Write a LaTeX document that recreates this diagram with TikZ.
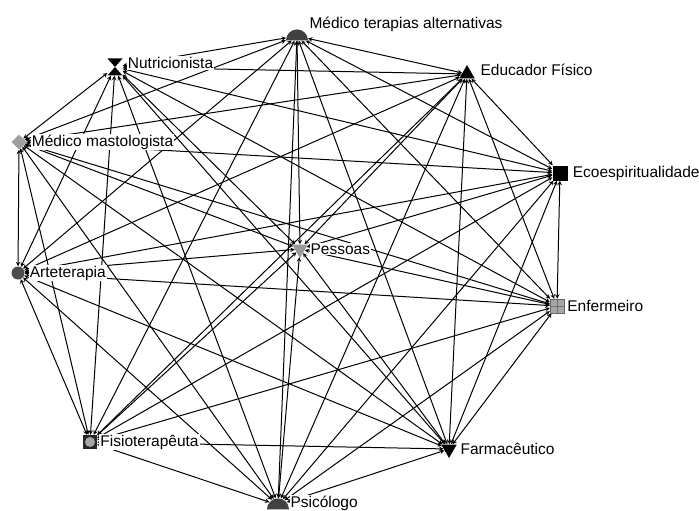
\documentclass[tikz,border=0pt]{standalone}
\usepackage{fontspec}
\setmainfont{Liberation Sans}
\usetikzlibrary{arrows,shapes.geometric,backgrounds}

\begin{document}
\begin{tikzpicture}[x=1pt,y=-1pt,
		actor/.style={inner sep=0pt, minimum size=15pt},
		lbl/.style={fill=white, inner sep=1pt, font=\fontsize{15.5}{18}\selectfont},
		tie/.style={<->, >=stealth, line width=1pt}]
	\useasboundingbox (0,0) rectangle (699,511);
	% actors of the network
	\node[actor, semicircle, minimum width=22pt, minimum height=0pt, fill=black!75,
		label={[lbl, name=mta-l, label distance=1pt, yshift=12pt]right:Médico terapias alternativas}] (mta) at (297,36) {};
	\node[actor, rectangle, minimum width=15pt, minimum height=17pt,
		path picture={\fill[black] (path picture bounding box.north west) -- (path picture bounding box.north east) -- (path picture bounding box.south west) -- (path picture bounding box.south east) -- cycle;},
		label={[lbl, name=nut-l, label distance=4pt, yshift=4pt]right:Nutricionista}] (nut) at (115,67) {};
	\node[actor, regular polygon, regular polygon sides=3, minimum size=18pt, fill=black,
		label={[lbl, name=edu-l, label distance=7pt, yshift=4pt]right:Educador Físico}] (edu) at (467,74) {};
	\node[actor, diamond, minimum size=15pt, fill=gray!75,
		label={[lbl, name=mas-l, label distance=4pt]right:Médico mastologista}] (mas) at (19,142) {};
	\node[actor, rectangle, fill=black,
		label={[lbl, name=eco-l, label distance=4pt]right:Ecoespiritualidade}] (eco) at (560,173) {};
	\node[actor, regular polygon, regular polygon sides=3, shape border rotate=180, minimum size=18pt, fill=gray!80,
		label={[lbl, name=pes-l, label distance=4pt]right:Pessoas}] (pes) at (300,249) {};
	\node[actor, circle, minimum size=13pt, fill=black!70,
		label={[lbl, name=art-l, label distance=4pt]right:Arteterapia}] (art) at (18,273) {};
	\node[actor, rectangle, minimum size=14pt, fill=gray!70, draw=black!60,
		path picture={\draw[black!55] (path picture bounding box.north) -- (path picture bounding box.south) (path picture bounding box.west) -- (path picture bounding box.east);},
		label={[lbl, name=enf-l, label distance=2pt]right:Enfermeiro}] (enf) at (557,306) {};
	\node[actor, rectangle, minimum size=14pt, fill=black!85,
		path picture={\fill[gray!70] (path picture bounding box.center) circle (5pt);},
		label={[lbl, name=fis-l, label distance=2pt]right:Fisioterapêuta}] (fis) at (90,442) {};
	\node[actor, regular polygon, regular polygon sides=3, shape border rotate=180, minimum size=18pt, fill=black,
		label={[lbl, name=far-l, label distance=5pt]right:Farmacêutico}] (far) at (449,449) {};
	\node[actor, semicircle, minimum width=22pt, minimum height=0pt, fill=black!75,
		label={[lbl, name=psi-l, label distance=1pt, yshift=2pt]right:Psicólogo}] (psi) at (278,505) {};
	% ties
	\begin{scope}[on background layer]
		\path[tie]
		(mta) edge (nut) edge (edu) edge (mas) edge (eco) edge (pes) edge (art) edge (enf) edge (fis) edge (far) edge (psi)
		(nut) edge (edu) edge (mas) edge (eco) edge (pes) edge (art) edge (enf) edge (fis) edge (far) edge (psi)
		(edu) edge (mas) edge (eco) edge (pes) edge (art) edge (enf) edge (fis) edge (far) edge (psi)
		(mas) edge (eco) edge (pes) edge (art) edge (enf) edge (fis) edge (far) edge (psi)
		(eco) edge (pes) edge (art) edge (enf) edge (fis) edge (far) edge (psi)
		(pes) edge (art) edge (enf) edge (fis) edge (far) edge (psi)
		(art) edge (enf) edge (fis) edge (far) edge (psi)
		(enf) edge (fis) edge (far) edge (psi)
		(fis) edge (far) edge (psi)
		(far) edge (psi);
	\end{scope}
\end{tikzpicture}
\end{document}
